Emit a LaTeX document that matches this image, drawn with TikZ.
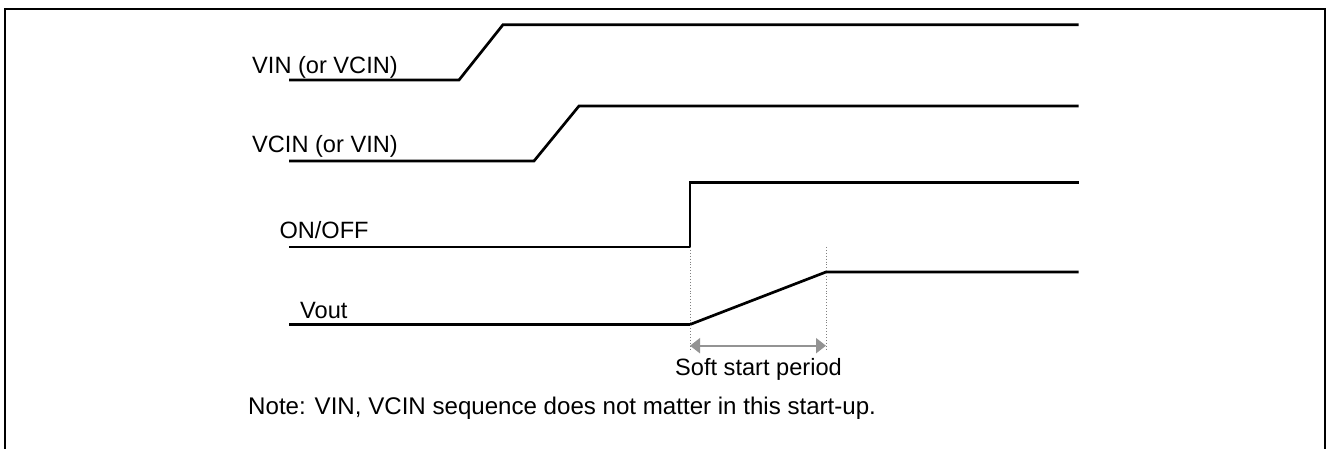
\documentclass[tikz,border=0pt]{standalone}
\usepackage{fontspec}
\setmainfont{Liberation Sans}
\usetikzlibrary{arrows.meta}
\begin{document}
\begin{tikzpicture}[x=1pt,y=-1pt,
  lbl/.style={anchor=base west,inner sep=0pt,font=\fontsize{23.6}{28}\selectfont},
  wave/.style={line width=2.7pt,line join=miter},
  frame/.style={line width=2.8pt},
  guide/.style={gray,line width=0.9pt,dotted},
  span/.style={{Triangle[length=10pt,width=15pt]}-{Triangle[length=10pt,width=15pt]},color=gray!85,line width=2pt}]
\useasboundingbox (0,0) rectangle (1328,449);
% frame
\draw[frame] (5,449) -- (5,9) -- (1325,9) -- (1325,449);
% labels
\node[lbl] (lvin) at (252,74) {VIN (or VCIN)};
\node[lbl] (lvcin) at (252,152.7) {VCIN (or VIN)};
\node[lbl] (lon) at (279.3,238.3) {ON/OFF};
\node[lbl] (lvout) at (300,318.3) {Vout};
\node[lbl,anchor=base] (lsoft) at (758.5,375) {Soft start period};
\node[lbl,font=\fontsize{24.1}{28}\selectfont] (lnote) at (248,414) {Note: VIN, VCIN sequence does not matter in this start-up.};
% waveforms
\draw[wave] (289,80) -- (459,80) -- (503,24.7) -- (1078.7,24.7);
\draw[wave] (289,161) -- (534,161) -- (579,106) -- (1078.7,106);
\draw[wave] (289,247) -- (690,247) -- (690,182.7) -- (1078.7,182.7);
\draw[wave] (289,324.5) -- (690,324.5) -- (826,272) -- (1078.7,272);
% guides
\coordinate (g1) at (690,247);
\coordinate (g2) at (826,247);
\coordinate (a1) at (690,345.7);
\coordinate (a2) at (826,345.7);
\draw[guide] (g1) -- (690,351);
\draw[guide] (g2) -- (826,351);
\draw[span] (a1) -- (a2);
\end{tikzpicture}
\end{document}
